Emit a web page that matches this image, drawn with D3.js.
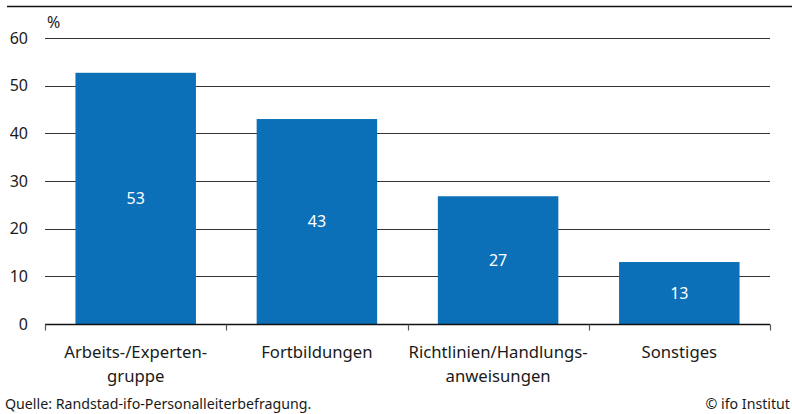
<!DOCTYPE html>
<html>
<head>
<meta charset="utf-8">
<script src="https://cdn.jsdelivr.net/npm/d3@7"></script>
<style>
  body { margin: 0; background: #fff; }
  svg text { font-family: "Noto Sans", sans-serif; fill: #1a1a1a; }
</style>
</head>
<body>
<svg id="chart"></svg>
<script>
// categories (line breaks as in the original)
var categories = [
  ["Arbeits-/Experten-", "gruppe"],
  ["Fortbildungen"],
  ["Richtlinien/Handlungs-", "anweisungen"],
  ["Sonstiges"]
];
var values = [52.7, 43, 26.8, 13];
var labels = ["53", "43", "27", "13"];
var yTicks = [0, 10, 20, 30, 40, 50, 60];

var w = 792;
var h = 414;
var padding = {top: 38, bottom: 90, left: 45, right: 22};

var svg = d3.select("#chart")
  .attr("width", w)
  .attr("height", h);

var xScale = d3.scaleBand()
  .domain(d3.range(categories.length))
  .range([padding.left, w - padding.right])
  .paddingInner(0.335)
  .paddingOuter(0.168);

var yScale = d3.scaleLinear()
  .domain([0, 60])
  .range([h - padding.bottom, padding.top]);

// top rule
svg.append("line")
  .attr("x1", 7).attr("x2", w)
  .attr("y1", 6.5).attr("y2", 6.5)
  .attr("stroke", "#111")
  .attr("stroke-width", 1.5);

// gridlines
svg.selectAll(".grid")
  .data(yTicks.filter(function(d) { return d > 0; }))
  .enter()
  .append("line")
  .attr("class", "grid")
  .attr("x1", padding.left)
  .attr("x2", w - padding.right)
  .attr("y1", function(d) { return Math.round(yScale(d)) + 0.5; })
  .attr("y2", function(d) { return Math.round(yScale(d)) + 0.5; })
  .attr("stroke", "#333")
  .attr("stroke-width", 1.2);

// y labels
svg.selectAll(".ylab")
  .data(yTicks)
  .enter()
  .append("text")
  .attr("class", "ylab")
  .attr("x", 28)
  .attr("y", function(d) { return yScale(d); })
  .attr("dy", "0.35em")
  .attr("text-anchor", "end")
  .attr("font-size", "16px")
  .text(function(d) { return d; });

svg.append("text")
  .attr("x", 47)
  .attr("y", 28)
  .attr("font-size", "16px")
  .text("%");

// bars
svg.selectAll("rect")
  .data(values)
  .enter()
  .append("rect")
  .attr("x", function(d, i) { return xScale(i); })
  .attr("width", xScale.bandwidth())
  .attr("y", function(d) { return yScale(d); })
  .attr("height", function(d) { return yScale(0) - yScale(d); })
  .attr("fill", "#0b70b8");

// value labels
values.forEach(function(v, i) {
  svg.append("text")
    .attr("x", xScale(i) + xScale.bandwidth() / 2)
    .attr("y", (yScale(v) + yScale(0)) / 2)
    .attr("dy", "0.35em")
    .attr("text-anchor", "middle")
    .attr("font-size", "16px")
    .style("fill", "#fff")
    .text(labels[i]);
});

// x axis with ticks at the category boundaries
var bounds = d3.range(categories.length + 1).map(function(i) {
  return padding.left + i * (w - padding.left - padding.right) / categories.length;
});
var base = Math.round(yScale(0)) + 0.5;
svg.append("line")
  .attr("x1", padding.left).attr("x2", w - padding.right)
  .attr("y1", base).attr("y2", base)
  .attr("stroke", "#111")
  .attr("stroke-width", 1.3);
svg.selectAll(".xtick")
  .data(bounds)
  .enter()
  .append("line")
  .attr("class", "xtick")
  .attr("x1", function(d) { return Math.round(d) + 0.5; })
  .attr("x2", function(d) { return Math.round(d) + 0.5; })
  .attr("y1", base)
  .attr("y2", base + 6)
  .attr("stroke", "#555")
  .attr("stroke-width", 1.2);

// category labels
categories.forEach(function(lines, i) {
  var t = svg.append("text")
    .attr("text-anchor", "middle")
    .attr("font-size", "16.7px");
  lines.forEach(function(line, j) {
    t.append("tspan")
      .attr("x", xScale(i) + xScale.bandwidth() / 2)
      .attr("y", 358 + j * 24)
      .text(line);
  });
});

// source and copyright
svg.append("text")
  .attr("x", 5)
  .attr("y", 409)
  .attr("font-size", "14.2px")
  .text("Quelle: Randstad-ifo-Personalleiterbefragung.");

svg.append("text")
  .attr("x", 790)
  .attr("y", 409)
  .attr("text-anchor", "end")
  .attr("font-size", "14.2px")
  .text("© ifo Institut");
</script>
</body>
</html>
